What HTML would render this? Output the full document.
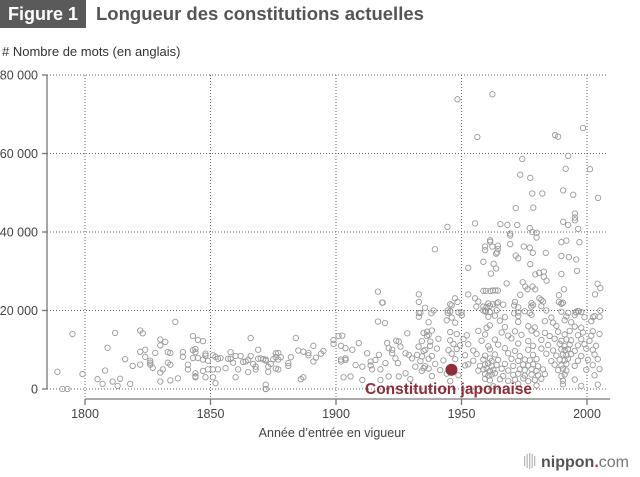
<!DOCTYPE html>
<html><head><meta charset="utf-8"><style>
body{margin:0;background:#fff;width:640px;height:472px;overflow:hidden;font-family:"Liberation Sans",Arial,sans-serif}
</style></head><body>
<svg id="chart" width="640" height="472" xmlns="http://www.w3.org/2000/svg" font-family="Liberation Sans, Arial, sans-serif">
<rect x="0" y="0" width="86" height="28" fill="#5a5a5a"/>
<text x="43" y="20" text-anchor="middle" fill="#fff" font-size="18" font-weight="bold">Figure 1</text>
<text x="96" y="20" fill="#555" font-size="18.5" font-weight="bold">Longueur des constitutions actuelles</text>
<text x="2" y="56" fill="#333" font-size="13"># Nombre de mots (en anglais)</text>
<text x="332" y="437" text-anchor="middle" fill="#444" font-size="12.5">Année d’entrée en vigueur</text>
<g id="grid"></g>
<g id="axes"></g>
<g id="points"></g>
<g>
<g fill="#bbb"><rect x="524" y="456" width="1.3" height="10"/><rect x="526.5" y="454" width="1.3" height="14"/><rect x="529" y="453" width="1.3" height="16"/><rect x="531.5" y="454" width="1.3" height="14"/><rect x="534" y="456" width="1.3" height="10"/></g>
<text x="541" y="467" font-size="16" font-weight="bold" fill="#555">nippon<tspan fill="#e0202e">.</tspan><tspan font-weight="normal" fill="#777">com</tspan></text>
</g>
</svg>
<script>
const yTicks=[0,20,40,60,80];
const yTickLabels=["0","20 000","40 000","60 000","80 000"];
const xTicks=[1800,1850,1900,1950,2000];
const years=[
1789,1791,1793,1795,1799,1805,1807,1808,1809,1811,1812,1813,1814,1816,1818,1819,1822,1823,1822,1822,1824,1824,1826,1826,1826,1827,1828,1830,1830,1830,1830,1831,1832,1833,1834,1833,1834,1834,1836,1837,1839,1839,1841,1841,1843,1843,1844,1844,1843,1844,1844,1844,1845,1847,1845,1847,1847,1848,1848,1849,1848,1849,1851,1852,1851,1851,1852,1853,1853,1854,1856,1857,1858,1858,1859,1860,1861,1860,1862,1863,1864,1865,1866,1866,1865,1867,1868,1868,1869,1869,1870,1871,1872,1872,1872,1872,1872,1873,1873,1874,1875,1876,1876,1877,1877,1878,1876,1877,1881,1881,1882,1884,1885,1886,1887,1887,1889,1889,1891,1891,1892,1894,1895,1899,1901,1899,1902,1902,1902,1903,
1902.5,1903.8,1906.5,1909.1,1903.8,1903.8,1905.8,1910.5,1910.5,1913.8,1913.8,1914.4,1917.7,1917.1,1920.4,1921,1922.4,1922.4,1923.7,1924.7,1924,1925,1925,1927.7,1929.6,1927.7,1929,1930.3,1932.3,1932.9,1934.3,1934.9,1935.6,1936.3,1936.9,1937.6,1916.7,1919.5,1918.4,1928.4,1907.8,1912.4,1915.7,1919.7,1925.7,1921,1917.7,1931.6,
1948.4,1962.3,1956.3,1987.3,1988.5,1998.4,1992.5,1974.2,1991.5,2001.2,1973.4,1977.4,2004.4,1978.2,1982.2,1990.5,1994.5,1971.6,1978.6,1995.2,1995.2,1995.2,1992.5,1990.5,1996.5,1944.4,1955.4,1965.5,1968.3,1972.2,1977.2,1978.2,1979.9,1979.9,1969.4,1969.4,1969.4,1961.4,1961.4,1959.4,1959.4,1962.3,1964.5,1964.5,1964.2,1963.8,1974.8,1977.2,1978.4,1971.6,1972.6,1962.8,1963.8,1958.7,1939.4,1952.7,1961.7,1968,1974.4,1975.4,1976.3,1978.3,1979.4,1980.9,1979.4,1982.8,1982.8,1983.9,1973.4,1977.4,1983.6,1989.8,1991.8,1989.8,1992.8,1995.7,1996,1997,1989.8,1990.8,1988.8,1988.8,1989.8,1981,1981.8,1977.8,1971,1971,1964,1962.5,1958.7,1959.7,1961.5,1962.5,1963.5,1964.5,1955.4,1955.9,1952.7,1948.4,1947.4,1958.7,1958.7,1959.7,1992.5,1995.5,1996.7,2002.4,2004.2,2005.3,2005.3,2003.2,1916.7,1918.6,1933,1933,1933,1933,1938,1944.5,1944.5,1950,
1945.5,1956.7,1960.7,1964.6,1966.6,1971.3,1977.9,1978.5,1982.5,1989.8,1990.4,
1935.5,1946.1,1960,1961.3,1972.6,1981.8,
1933.6,1938.9,1945.5,1948.8,1959.4,1961.3,1964,1972.6,1975.2,1977.2,1983.8,1989.8,1995.7,1996.4,1997.7,
1946.1,1950.1,1960.7,1963.3,1967.3,1972.6,1977.9,1985.8,1991.8,1995.1,1999,2003,2005,
1936.9,1944.1,1947.5,1965.3,1972.6,1983.2,1986.5,1991.1,1993.7,2001.7,
1960,1961.3,1967.3,1976.6,1979.2,1987.8,1995.1,1997.7,
1934.9,1938.2,1945.5,1956.7,1966,1971.3,1977.9,1983.2,1988.5,1993.1,1998.4,2002.3,
1936.2,1948.1,1952.1,1959.4,1968.6,1973.9,1979.9,1985.1,1991.1,1996.4,2001.7,2005,
1934.2,1940.8,1945.5,1950.8,1958,1963.3,1969.9,1976.6,1981.8,1987.1,1989.8,1991.8,1993.7,1997.7,2001,
1937.5,1946.8,1949.4,1952.7,1960.7,1964.6,1972.6,1978.5,1984.5,1989.1,1991.1,1993.1,1996.4,1999,2003.6,
1934.9,1940.2,1944.8,1948.1,1954.7,1961.3,1967.3,1971.3,1976.6,1981.8,1986.5,1989.8,1991.1,1992.4,1995.1,1999.7,2002.3,
1938.2,1946.1,1951.4,1956,1959.4,1963.3,1968.6,1973.2,1978.5,1983.8,1987.8,1990.4,1991.8,1993.7,1997.7,2003,
1933.6,1936.9,1942.8,1947.5,1954.7,1958.7,1961.3,1962,1964.6,1969.9,1972.6,1975.2,1977.2,1979.9,1985.8,1989.1,1991.1,1992.4,1996.4,2000.4,2004.3,
1935.5,1939.5,1951.4,1952.7,1957.4,1959.4,1960.7,1962,1964,1967.3,1970.6,1974.6,1976.6,1978.5,1980.5,1987.1,1989.8,1991.8,1995.1,2002.3,
1934.2,1936.9,1941.5,1946.1,1956.7,1958.7,1960,1961.3,1962.7,1966,1968.6,1973.2,1975.2,1977.9,1979.9,1982.5,1988.5,1990.4,1991.8,1999.7,2005,
1938.2,1944.1,1948.8,1959.4,1960.7,1962,1963.3,1966.6,1970.6,1972.6,1975.2,1977.9,1980.5,1983.2,1989.8,1991.1,2003,
1945.5,1959.4,1961.3,1965.3,1968.6,1971.3,1974.6,1976.6,1979.2,1981.8,1990.4,1995.1,
1962.7,1972.6,1979.9,1990.4,1997.7,2004.3
];
const words=[
4.4,0,0,14,3.8,2.5,1.3,4.7,10.5,1.9,14.3,0.8,2.6,7.6,1.3,5.9,14.9,14.2,6.2,9.5,10,8.2,7.2,6.7,6.2,5.4,9.2,12.6,11.1,4.2,1.9,5,12,9.4,9.2,6.7,6.2,2.2,17.1,2.7,9.4,8.2,6.2,5,13.5,9.9,10.2,9.4,7.9,4,3.2,3,12.5,12.2,7.9,7.5,4.6,9,8.5,5,3,7.2,8.6,8.2,5,3,1.5,5,7.7,7.9,5.3,7.7,9.4,7.7,6.7,8.4,5,3,8.4,6.9,7,7.4,13,8.4,4.3,6.4,5.7,5,10,7.7,7.8,7.6,7.5,7.2,1.1,0,0,5.7,4.4,6.4,7.6,9.1,8.1,7.5,9.2,8.1,5.2,5,6.6,5.9,8.1,13,9.8,2.5,3,9.5,9.2,8.6,11,7,8,9,9.7,12.5,13.5,11.5,11,7.5,7,3,
13.6,10.4,10,11.7,7.8,7.4,3.2,5.7,2.3,7,6,5,5,8.7,11.7,10.4,10,9.1,7.8,6.6,12.3,12.1,3.2,4,2.5,9.1,8.7,7.8,8.7,10.8,8.3,5.3,10,14.6,13.8,12.1,17.2,16.8,22,14.2,6.1,9.1,7.4,6.6,10.8,3.2,2.3,5.7,
73.8,75.1,64.2,64.7,64.3,66.5,59.4,58.6,56.1,56,54.6,53.8,48.7,49.8,49.8,50.6,49.5,46.1,46.2,44.7,43.7,43,41.8,42.6,40.8,41.3,42.2,42,41.8,41.8,41,40,39.8,38.6,39.6,39.1,36.9,37.9,37.5,36.3,35.4,36.3,36.5,35.7,34.8,34.5,36.3,36,34.7,34,33.3,31.9,30.7,32.4,35.6,30.9,29.4,26.9,27.2,26.1,25.4,26.1,25.4,29.6,29.2,29.9,28.6,27.6,24,31.8,34.7,37.4,37.8,33.9,33.6,33,30.1,37.4,29.3,25.4,23.9,22.2,21.8,23.1,22.7,21,21.3,19.3,21.8,21.6,25,25,25,25.1,25.1,25.1,23.1,21,24.1,22.2,23.1,21,20,19.7,19.4,19.6,19.8,18.3,26.8,25.7,20,24.1,24.8,22,24.1,22.2,19.4,18.4,19.3,19.4,20,19.5,
21.6,22.3,21.8,22.1,21.5,22.2,21.9,21.4,22.3,21.7,22,
20.7,21.3,20.9,21.2,20.8,21.1,
19.4,20,19.8,19.5,19.9,19.6,20.1,19.5,19.8,19.4,20,19.7,19.5,19.9,19.6,
18.2,18.8,18.4,18.7,18.3,18.6,18.9,18.2,18.5,18.8,18.3,18.6,18.4,
17,17.5,16.9,17.4,17.1,17.3,16.9,17.5,17,17.3,
15.6,16.2,15.8,16,15.7,16.1,15.9,15.6,
14.3,14.9,14.5,14.8,14.4,14.7,14.9,14.3,14.6,14.8,14.4,14.7,
13.5,14,13.7,13.9,13.6,13.8,14.1,13.5,13.9,13.7,13.6,14,
12.2,12.8,12.4,12.7,12.3,12.6,12.9,12.2,12.5,12.8,12.3,12.6,12.4,12.7,12.3,
11,11.5,11.1,11.4,10.9,11.3,11.6,11,11.2,11.5,10.9,11.3,11.1,11.4,11,
9.7,10.3,9.9,10.2,9.8,10.1,10.4,9.7,10,10.3,9.8,10.1,9.9,10.2,9.7,10.3,10,
8.4,9,8.6,8.9,8.5,8.8,9.1,8.4,8.7,9,8.5,8.8,8.6,8.9,8.4,8.8,
7.1,7.7,7.3,7.6,7.2,7.5,7.8,7.1,7.4,7.7,7.2,7.5,7.3,7.6,7.1,7.5,7.3,7.7,7.2,7.4,7.6,
5.8,6.4,6,6.3,5.9,6.2,6.5,5.8,6.1,6.4,5.9,6.2,6,6.3,5.8,6.2,6,6.4,5.9,6.1,
4.6,5.2,4.8,5.1,4.7,5,5.3,4.6,4.9,5.2,4.7,5,4.8,5.1,4.6,5,4.8,5.2,4.7,4.9,5.1,
3.3,3.9,3.5,3.8,3.4,3.7,4,3.3,3.6,3.9,3.4,3.7,3.5,3.8,3.3,3.7,3.5,
2,2.6,2.2,2.5,2.1,2.4,2.7,2,2.3,2.6,2.1,2.4,
0.7,1.3,0.9,1.2,0.8,1.1
];
const japanYear=[1946];
const japanWords=[4.9];
const japanLabel=["Constitution japonaise"];

const NS="http://www.w3.org/2000/svg";
function xS(yr){return 85+(yr-1800)*2.51;}
function yS(k){return 389-k*3.925;}
function mk(tag,attrs,parent){const e=document.createElementNS(NS,tag);for(const k in attrs)e.setAttribute(k,attrs[k]);parent.appendChild(e);return e;}
const grid=document.getElementById('grid'),axes=document.getElementById('axes'),pts=document.getElementById('points');
yTicks.forEach((t,i)=>{
  const l=mk('line',{x1:47,x2:608,y1:yS(t),y2:yS(t),stroke:'#666','stroke-width':1,'stroke-dasharray':'1 2'},grid);
  
  
  const tk=mk('line',{x1:42,x2:47,y1:yS(t),y2:yS(t),stroke:'#777','stroke-width':1.3},axes);
  
  
  const tx=mk('text',{x:38,y:yS(t)+4.5,'text-anchor':'end','font-size':12.5,fill:'#444'},axes);
  
  
  tx.textContent=yTickLabels[i];
});
xTicks.forEach(t=>{
  const l=mk('line',{x1:xS(t),x2:xS(t),y1:yS(80),y2:399,stroke:'#666','stroke-width':1,'stroke-dasharray':'1 2'},grid);
  
  
  const tk=mk('line',{x1:xS(t),x2:xS(t),y1:399,y2:405,stroke:'#777','stroke-width':1.3},axes);
  
  
  const tx=mk('text',{x:xS(t),y:418,'text-anchor':'middle','font-size':12.5,fill:'#444'},axes);
  
  
  tx.textContent=t;
});
const ya=mk('line',{x1:47,x2:47,y1:yS(80),y2:yS(0),stroke:'#777','stroke-width':1.3},axes);


const xa=mk('line',{x1:xS(1800),x2:610,y1:399,y2:399,stroke:'#777','stroke-width':1.3},axes);


for(let i=0;i<years.length;i++){
  const c=mk('circle',{cx:xS(years[i]),cy:yS(words[i]),r:2.7,fill:'none',stroke:'#9a9a9a','stroke-width':0.9},pts);
  
  
}
const jc=mk('circle',{cx:xS(japanYear[0]),cy:yS(japanWords[0]),r:6,fill:'#8e2e38'},pts);


const jl=mk('text',{x:365,y:394,'font-size':15.5,'font-weight':'bold',fill:'#8e2e38'},pts);


jl.textContent=japanLabel[0];
</script>
</body></html>
